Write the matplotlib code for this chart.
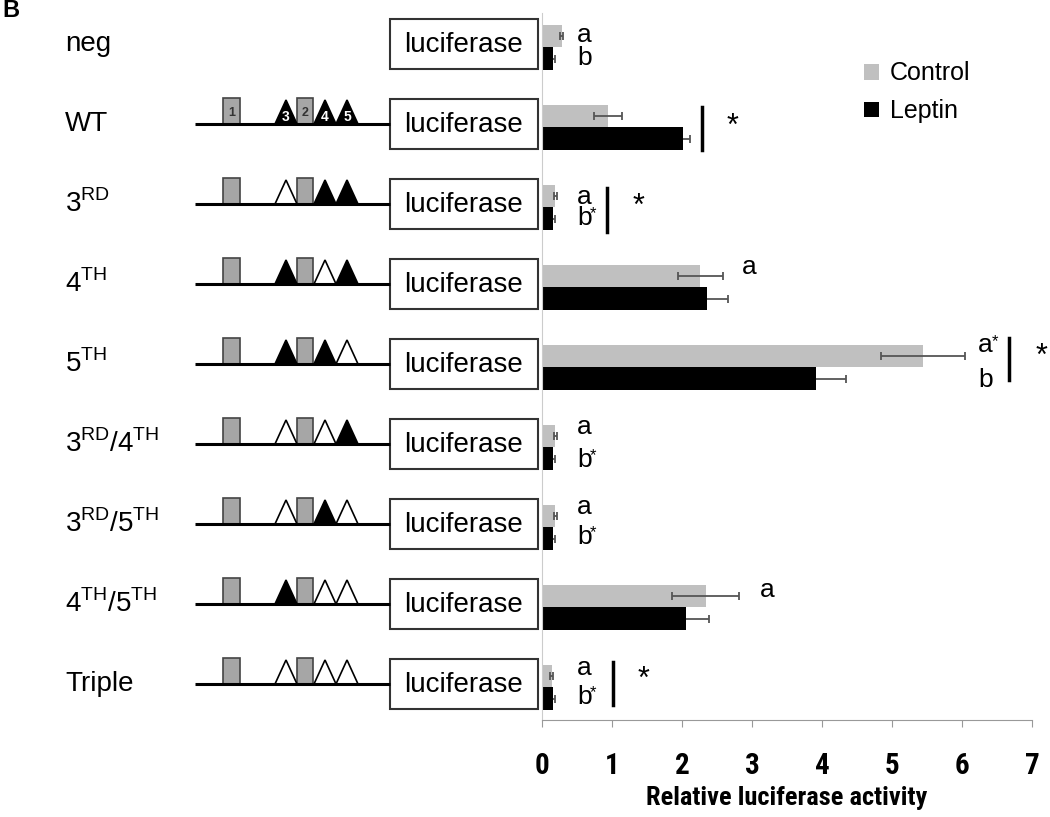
import matplotlib
matplotlib.use('Agg')
import matplotlib.pyplot as plt
from matplotlib.patches import Rectangle, Polygon
import numpy as np

plt.rcParams['font.family'] = ['Liberation Sans', 'DejaVu Sans']
plt.rcParams['mathtext.fontset'] = 'custom'
plt.rcParams['mathtext.rm'] = 'Liberation Sans'

# constructs, top to bottom
constructs = ['neg', 'WT', r'$3^{\mathrm{RD}}$', r'$4^{\mathrm{TH}}$', r'$5^{\mathrm{TH}}$',
              r'$3^{\mathrm{RD}}$/$4^{\mathrm{TH}}$', r'$3^{\mathrm{RD}}$/$5^{\mathrm{TH}}$',
              r'$4^{\mathrm{TH}}$/$5^{\mathrm{TH}}$', 'Triple']
# sites 3, 4, 5 intact (1) or mutated (0); None = no promoter
sites = [None, (1, 1, 1), (0, 1, 1), (1, 0, 1), (1, 1, 0), (0, 0, 1), (0, 1, 0), (1, 0, 0), (0, 0, 0)]

control = [0.28, 0.94, 0.19, 2.26, 5.44, 0.19, 0.19, 2.34, 0.14]
control_err = [0.02, 0.20, 0.02, 0.32, 0.60, 0.02, 0.02, 0.48, 0.02]
leptin = [0.16, 2.01, 0.16, 2.35, 3.92, 0.16, 0.16, 2.05, 0.16]
leptin_err = [0.02, 0.10, 0.02, 0.30, 0.42, 0.02, 0.02, 0.33, 0.02]

# letter marks: (row, x, dy, letter, superscript star)
letters = [(0, 0.5, -0.15, 'a', False), (0, 0.5, 0.14, 'b', False),
           (2, 0.5, -0.13, 'a', False), (2, 0.5, 0.14, 'b', True),
           (3, 2.86, -0.25, 'a', False),
           (4, 6.23, -0.27, 'a', True), (4, 6.23, 0.16, 'b', False),
           (5, 0.5, -0.25, 'a', False), (5, 0.5, 0.16, 'b', True),
           (6, 0.5, -0.25, 'a', False), (6, 0.5, 0.12, 'b', True),
           (7, 3.11, -0.21, 'a', False),
           (8, 0.5, -0.24, 'a', False), (8, 0.5, 0.12, 'b', True)]
# significance bars: (row, x, y0, y1, star x, star dy)
sig = [(1, 2.29, -0.25, 0.29, 2.64, 0.0),
       (2, 0.93, -0.24, 0.31, 1.30, 0.0),
       (4, 6.67, -0.36, 0.16, 7.05, -0.13),
       (8, 1.02, -0.31, 0.23, 1.37, -0.09)]

W, H = 1050, 817
fig = plt.figure(figsize=(W / 100, H / 100), dpi=100)

# bar chart axes (pixel layout of the reference)
ax = fig.add_axes([542 / W, 1 - 720 / H, 490 / W, 707 / H])
ax.set_facecolor('none')
rows = np.arange(len(constructs))
b1 = ax.barh(rows - 0.14, control, height=0.28, color='#c0c0c0', label='Control', zorder=2)
b2 = ax.barh(rows + 0.145, leptin, height=0.29, color='black', label='Leptin', zorder=2)
ekw = dict(fmt='none', ecolor='#555555', elinewidth=1.3, capsize=3, capthick=1.3)
ax.errorbar(control, rows - 0.14, xerr=control_err, zorder=3, **ekw)
ax.errorbar(leptin, rows + 0.145, xerr=leptin_err, zorder=1, **ekw)
ax.set_xlim(0, 7)
ax.set_ylim(8.4125, -0.425)
ax.set_yticks([])
for s in ['top', 'right']:
    ax.spines[s].set_visible(False)
ax.spines['left'].set_color('#cccccc')
ax.spines['bottom'].set_color('#999999')
ax.tick_params(axis='x', colors='#999999', length=5, pad=18)
ax.set_xticks(range(8))
narrow = ['Roboto Condensed', 'Liberation Sans', 'DejaVu Sans']
for t in ax.get_xticklabels():
    t.set_fontfamily(narrow)
    t.set_fontweight('bold')
    t.set_fontsize(21)
    t.set_color('black')
ax.set_xlabel('Relative luciferase activity', family=narrow, fontweight='bold', fontsize=19, labelpad=4)

for r, x, dy, s, star in letters:
    ax.text(x, r + dy, s, fontsize=19, va='center', ha='left')
    if star:
        ax.annotate('*', (x, r + dy), xytext=(9.5, 3), textcoords='offset points', fontsize=12, va='center')
for r, x, y0, y1, sx, sdy in sig:
    ax.plot([x, x], [r + y0, r + y1], color='black', lw=2.5, clip_on=False)
    ax.text(sx, r + sdy, '*', fontsize=22, va='center', ha='left', clip_on=False)

fig.legend([b1, b2], ['Control', 'Leptin'], loc='upper left', bbox_to_anchor=(841 / W, 1 - 39 / H),
           frameon=False, fontsize=18, handlelength=0.6, handleheight=0.6, handletextpad=0.45, labelspacing=0.55)

# schematic overlay in pixel coordinates
ov = fig.add_axes([0, 0, 1, 1])
ov.set_xlim(0, W)
ov.set_ylim(H, 0)
ov.axis('off')
ov.text(2, -1, 'B', fontsize=17, fontweight='bold', va='top', ha='left')

tri_x = [275, 314, 336]
for i, name in enumerate(constructs):
    yc = 44 + 80 * i
    ov.text(65, yc, name, fontsize=20, va='center', ha='left')
    ov.add_patch(Rectangle((390, yc - 25), 148, 50, fc='white', ec='#333333', lw=1.5))
    ov.text(464, yc + 1, 'luciferase', fontsize=20, va='center', ha='center')
    if sites[i] is None:
        continue
    ov.plot([195, 390], [yc, yc], color='black', lw=2.2, solid_capstyle='butt')
    ov.add_patch(Rectangle((223, yc - 26), 17, 26, fc='#a6a6a6', ec='#444444', lw=1.2))
    ov.add_patch(Rectangle((297, yc - 26), 16, 26, fc='#a6a6a6', ec='#444444', lw=1.2))
    for x0, on in zip(tri_x, sites[i]):
        ov.add_patch(Polygon([(x0, yc), (x0 + 22, yc), (x0 + 11, yc - 24)], closed=True,
                             fc='black' if on else 'white', ec='black', lw=1.2))
    if name == 'WT':
        ov.text(231.5, yc - 11, '1', fontsize=9, fontweight='bold', color='#333333', ha='center', va='center')
        ov.text(305, yc - 11, '2', fontsize=9, fontweight='bold', color='#333333', ha='center', va='center')
        for x0, n in zip(tri_x, '345'):
            ov.text(x0 + 11, yc - 7, n, fontsize=10, fontweight='bold', color='white', ha='center', va='center')

fig.savefig('out.png', dpi=100)
